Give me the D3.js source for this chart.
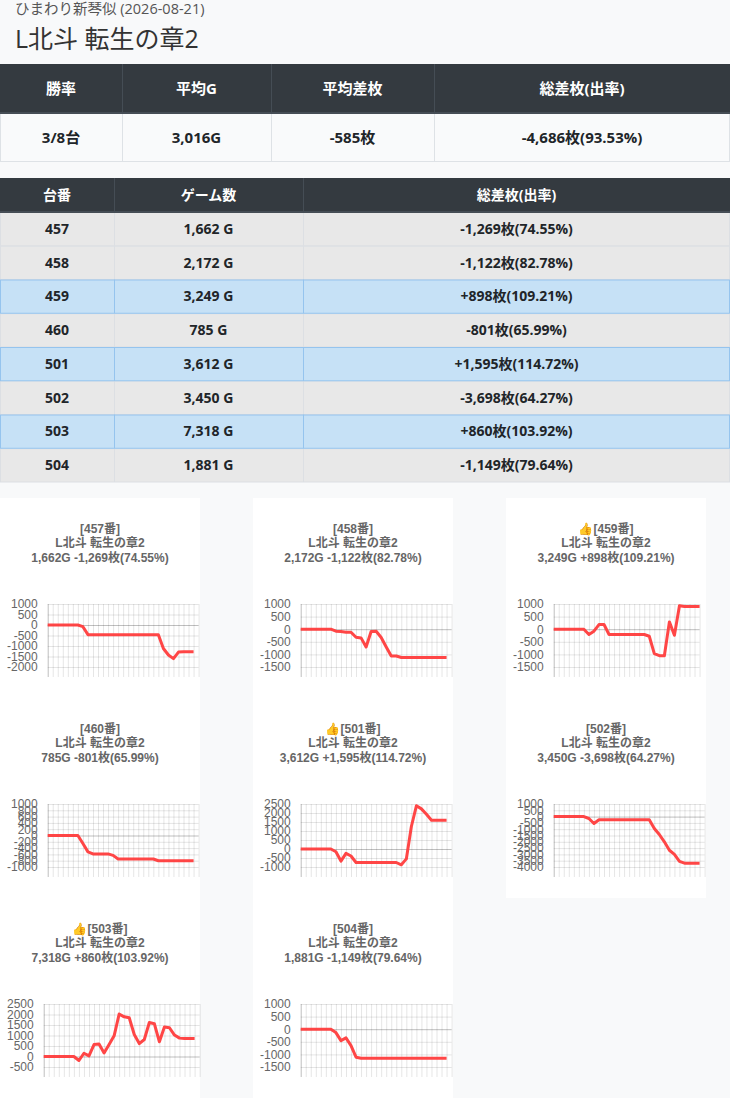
<!DOCTYPE html>
<html>
<head>
<meta charset="utf-8">
<script src="https://cdn.jsdelivr.net/npm/d3@7"></script>
<style>
  body { margin: 0; background: #f8f9fa; }
  svg { display: block; }
</style>
</head>
<body>
<div id="page"></div>
<script>
// ---- data ----
const storeName = "ひまわり新琴似";
const reportDate = "2026-08-21";
const machineName = "L北斗 転生の章2";

const summaryHeaders = ["勝率", "平均G", "平均差枚", "総差枚(出率)"];
const summaryValues = ["3/8台", "3,016G", "-585枚", "-4,686枚(93.53%)"];

const unitHeaders = ["台番", "ゲーム数", "総差枚(出率)"];
const unitNumbers = [457, 458, 459, 460, 501, 502, 503, 504];
const unitGames = [1662, 2172, 3249, 785, 3612, 3450, 7318, 1881];
const unitDiffs = [-1269, -1122, 898, -801, 1595, -3698, 860, -1149];
const unitRates = [74.55, 82.78, 109.21, 65.99, 114.72, 64.27, 103.92, 79.64];

// x slots (hidden labels) per chart
const slotCounts = [31, 31, 30, 31, 31, 31, 32, 31];

const yTickLabels = [
  [1000, 500, 0, -500, -1000, -1500, -2000],
  [1000, 500, 0, -500, -1000, -1500],
  [1000, 500, 0, -500, -1000, -1500],
  [1000, 800, 600, 400, 200, 0, -200, -400, -600, -800, -1000],
  [2500, 2000, 1500, 1000, 500, 0, -500, -1000],
  [1000, 500, 0, -500, -1000, -1500, -2000, -2500, -3000, -3500, -4000],
  [2500, 2000, 1500, 1000, 500, 0, -500],
  [1000, 500, 0, -500, -1000, -1500]
];

const series457 = [0, 0, 0, 0, 0, 0, 0, -80, -460, -460, -460, -460, -460, -460, -460, -460,
  -460, -460, -460, -460, -460, -460, -460, -1120, -1430, -1600, -1290, -1269, -1269, -1269];
const series458 = [0, 0, 0, 0, 0, 0, 0, -80, -95, -120, -120, -320, -345, -705, -90, -80,
  -330, -705, -1065, -1065, -1122, -1122, -1122, -1122, -1122, -1122, -1122, -1122, -1122, -1122];
const series459 = [0, 0, 0, 0, 0, 0, 0, -210, -80, 185, 185, -210, -210, -210, -210, -210,
  -210, -210, -210, -280, -970, -1050, -1050, 290, -240, 930, 898, 898, 898, 898];
const series460 = [0, 0, 0, 0, 0, 0, 0, -255, -520, -585, -585, -585, -585, -630, -745, -745,
  -745, -745, -745, -745, -745, -745, -801, -801, -801, -801, -801, -801, -801, -801];
const series501 = [0, 0, 0, 0, 0, 0, 0, -150, -670, -240, -390, -750, -750, -750, -750, -750,
  -750, -750, -750, -750, -880, -550, 1250, 2400, 2230, 1930, 1595, 1595, 1595, 1595];
const series502 = [0, 0, 0, 0, 0, 0, 0, -150, -550, -250, -250, -250, -250, -250, -250, -250,
  -250, -250, -250, -250, -940, -1420, -2000, -2670, -3000, -3550, -3698, -3698, -3698, -3698];
const series503 = [0, 0, 0, 0, 0, 0, 0, -190, 155, 30, 570, 590, 170, 570, 985, 2020,
  1890, 1845, 1045, 615, 810, 1620, 1560, 700, 1400, 1370, 1020, 875, 860, 860, 860];
const series504 = [0, 0, 0, 0, 0, 0, 0, -135, -455, -345, -650, -1110, -1149, -1149, -1149, -1149,
  -1149, -1149, -1149, -1149, -1149, -1149, -1149, -1149, -1149, -1149, -1149, -1149, -1149, -1149];

const unitSeries = [series457, series458, series459, series460, series501, series502, series503, series504];

// ---- formatting ----
const locale = d3.formatLocale({decimal: ".", thousands: ",", grouping: [3], currency: ["", ""], minus: "-"});
const fmtInt = locale.format(",");
const fmtSigned = locale.format("+,");
const fmtRate = locale.format(".2f");
const fmtTick = locale.format("d");

const W = 730, H = 1098;
const uiFont = "'Open Sans', 'Noto Sans CJK JP', sans-serif";
const chartFont = "'Liberation Sans', Arial, 'Noto Sans CJK JP', sans-serif";

let svg = d3.select("#page")
  .append("svg")
    .attr("width", W)
    .attr("height", H)
;

// ---- page header ----
svg.append("text")
    .attr("x", 15).attr("y", 14)
    .attr("font-family", uiFont)
    .attr("font-size", 14.5)
    .attr("fill", "#555")
    .text(storeName + " (" + reportDate + ")");

svg.append("text")
    .attr("x", 15).attr("y", 48)
    .attr("font-family", uiFont)
    .attr("font-size", 25)
    .attr("fill", "#333")
    .text(machineName);

// ---- summary table ----
let sumCols = [0, 122, 271, 434, 730];
let sumTop = 64, sumHeadH = 49, sumRowH = 49;
let sumG = svg.append("g");

sumG.append("rect")
    .attr("x", 0).attr("y", sumTop)
    .attr("width", W).attr("height", sumHeadH)
    .attr("fill", "#343a40");
sumG.append("rect")
    .attr("x", 0.5).attr("y", sumTop + sumHeadH)
    .attr("width", W - 1).attr("height", sumRowH - 0.5)
    .attr("fill", "#f9fafb")
    .attr("stroke", "#dee2e6");

sumCols.slice(1, -1).forEach(function(cx){
  sumG.append("line")
      .attr("x1", cx + 0.5).attr("x2", cx + 0.5)
      .attr("y1", sumTop).attr("y2", sumTop + sumHeadH)
      .attr("stroke", "#454d55");
  sumG.append("line")
      .attr("x1", cx + 0.5).attr("x2", cx + 0.5)
      .attr("y1", sumTop + sumHeadH).attr("y2", sumTop + sumHeadH + sumRowH)
      .attr("stroke", "#dee2e6");
});
sumG.append("rect")
    .attr("x", 0).attr("y", sumTop + sumHeadH - 1)
    .attr("width", W).attr("height", 2)
    .attr("fill", "#454d55");

sumG.selectAll("text.head").data(summaryHeaders).enter()
  .append("text")
    .attr("class", "head")
    .attr("x", (d, i) => (sumCols[i] + sumCols[i + 1]) / 2)
    .attr("y", sumTop + sumHeadH / 2)
    .attr("dy", "0.35em")
    .attr("text-anchor", "middle")
    .attr("font-family", uiFont)
    .attr("font-size", 15)
    .attr("font-weight", 700)
    .attr("fill", "#fff")
    .text(d => d);

sumG.selectAll("text.val").data(summaryValues).enter()
  .append("text")
    .attr("class", "val")
    .attr("x", (d, i) => (sumCols[i] + sumCols[i + 1]) / 2)
    .attr("y", sumTop + sumHeadH + sumRowH / 2)
    .attr("dy", "0.35em")
    .attr("text-anchor", "middle")
    .attr("font-family", uiFont)
    .attr("font-size", 15)
    .attr("font-weight", 700)
    .attr("fill", "#212529")
    .text(d => d);

// ---- per-unit table ----
let unitCols = [0, 114, 303, 730];
let unitTop = 178, unitHeadH = 34, unitRowH = 33.75;
let unitG = svg.append("g");

unitG.append("rect")
    .attr("x", 0).attr("y", unitTop)
    .attr("width", W).attr("height", unitHeadH)
    .attr("fill", "#343a40");
unitCols.slice(1, -1).forEach(function(cx){
  unitG.append("line")
      .attr("x1", cx + 0.5).attr("x2", cx + 0.5)
      .attr("y1", unitTop).attr("y2", unitTop + unitHeadH)
      .attr("stroke", "#454d55");
});
unitG.selectAll("text.head").data(unitHeaders).enter()
  .append("text")
    .attr("class", "head")
    .attr("x", (d, i) => (unitCols[i] + unitCols[i + 1]) / 2)
    .attr("y", unitTop + unitHeadH / 2)
    .attr("dy", "0.35em")
    .attr("text-anchor", "middle")
    .attr("font-family", uiFont)
    .attr("font-size", 14)
    .attr("font-weight", 700)
    .attr("fill", "#fff")
    .text(d => d);

let rowY = d3.scaleBand()
    .domain(unitNumbers)
    .range([unitTop + unitHeadH, unitTop + unitHeadH + unitRowH * unitNumbers.length]);

function diffText(i){
  return (unitDiffs[i] > 0 ? fmtSigned(unitDiffs[i]) : fmtInt(unitDiffs[i])) +
    "枚(" + fmtRate(unitRates[i]) + "%)";
}

// losers first, winners on top so the blue borders stay visible
let order = d3.range(unitNumbers.length).sort((a, b) => (unitDiffs[a] > 0) - (unitDiffs[b] > 0));
order.forEach(function(i){
  let win = unitDiffs[i] > 0;
  let y0 = rowY(unitNumbers[i]);
  let border = win ? "#95c4ee" : "#dcdfe3";
  unitG.append("rect")
      .attr("x", 0.5).attr("y", y0 + 0.5)
      .attr("width", W - 1).attr("height", rowY.bandwidth() - 0.5)
      .attr("fill", win ? "#c6e1f6" : "#e8e8e8")
      .attr("stroke", border);
  unitCols.slice(1, -1).forEach(function(cx){
    unitG.append("line")
        .attr("x1", cx + 0.5).attr("x2", cx + 0.5)
        .attr("y1", y0).attr("y2", y0 + rowY.bandwidth())
        .attr("stroke", border);
  });
});
unitG.append("rect")
    .attr("x", 0).attr("y", unitTop + unitHeadH - 1)
    .attr("width", W).attr("height", 2)
    .attr("fill", "#454d55");

unitNumbers.forEach(function(num, i){
  let cells = [String(num), fmtInt(unitGames[i]) + " G", diffText(i)];
  unitG.selectAll("text.r" + num).data(cells).enter()
    .append("text")
      .attr("x", (d, c) => (unitCols[c] + unitCols[c + 1]) / 2)
      .attr("y", rowY(num) + rowY.bandwidth() / 2)
      .attr("dy", "0.35em")
      .attr("text-anchor", "middle")
      .attr("font-family", uiFont)
      .attr("font-size", 14)
      .attr("font-weight", 700)
      .attr("fill", "#212529")
      .text(d => d);
});

// ---- small multiples ----
let boxW = 200, boxH = 200, boxStep = 253, boxTop = 498;
let plotTop = 106, plotBottom = 169, slotW = 5.03, tickLen = 10;

unitNumbers.forEach(function(num, i){
  let col = i % 3, row = Math.floor(i / 3);
  let g = svg.append("g")
      .attr("transform", "translate(" + (col * boxStep) + "," + (boxTop + row * boxH) + ")");

  g.append("rect")
      .attr("width", boxW).attr("height", boxH)
      .attr("fill", "#fff");

  let titleLines = [
    (unitDiffs[i] > 0 ? "👍" : "") + "[" + num + "番]",
    machineName,
    fmtInt(unitGames[i]) + "G " + diffText(i)
  ];
  g.selectAll("text.title").data(titleLines).enter()
    .append("text")
      .attr("class", "title")
      .attr("x", boxW / 2)
      .attr("y", (d, k) => 30.5 + k * 14.5)
      .attr("dy", "0.35em")
      .attr("text-anchor", "middle")
      .attr("font-family", chartFont)
      .attr("font-size", 12)
      .attr("font-weight", 700)
      .attr("fill", "#666")
      .text(d => d);

  let ticks = yTickLabels[i];
  // measure the widest tick label to place the plot area
  let probe = g.append("g");
  let maxW = 0;
  ticks.forEach(function(t){
    let tx = probe.append("text")
        .attr("font-family", chartFont).attr("font-size", 12)
        .text(fmtTick(t));
    maxW = Math.max(maxW, tx.node().getComputedTextLength());
  });
  probe.remove();

  let plotLeft = 7 + maxW + 10;
  let slots = slotCounts[i];
  let x = d3.scaleLinear()
      .domain([0, slots - 1])
      .range([plotLeft, plotLeft + slotW * (slots - 1)]);
  let y = d3.scaleLinear()
      .domain([d3.min(ticks), d3.max(ticks)])
      .range([plotBottom, plotTop]);

  let xAxis = g.append("g")
      .attr("transform", "translate(0," + plotTop + ")")
      .call(d3.axisBottom(x)
        .tickValues(d3.range(slots))
        .tickSize(plotBottom - plotTop + tickLen)
        .tickFormat(""));
  xAxis.select(".domain").remove();
  xAxis.selectAll(".tick line")
      .attr("stroke", d => d === 0 ? "rgba(0,0,0,0.25)" : "rgba(0,0,0,0.1)");

  let yAxis = g.append("g")
      .attr("transform", "translate(" + plotLeft + ",0)")
      .call(d3.axisLeft(y)
        .tickValues(ticks)
        .tickSize(-(x.range()[1] - plotLeft))
        .tickPadding(10)
        .tickFormat(fmtTick));
  yAxis.select(".domain").remove();
  yAxis.selectAll(".tick line")
      .attr("stroke", d => d === 0 ? "rgba(0,0,0,0.25)" : "rgba(0,0,0,0.1)");
  yAxis.selectAll(".tick text")
      .attr("font-family", chartFont)
      .attr("font-size", 12)
      .attr("fill", "#666");

  let line = d3.line()
      .x((d, k) => x(k))
      .y(d => y(d));

  g.append("path")
      .datum(unitSeries[i])
      .attr("d", line)
      .attr("fill", "none")
      .attr("stroke", "rgba(255,60,60,0.95)")
      .attr("stroke-width", 3)
      .attr("stroke-linejoin", "round");
});
</script>
</body>
</html>
